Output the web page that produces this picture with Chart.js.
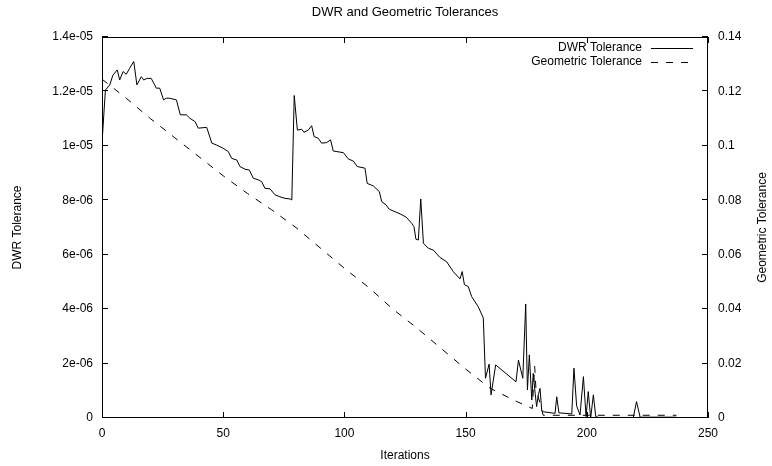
<!DOCTYPE html>
<html><head><meta charset="utf-8">
<script src="https://cdn.jsdelivr.net/npm/chart.js@4.4.0/dist/chart.umd.min.js"></script>
<style>html,body{margin:0;padding:0;background:#fff;}</style>
</head><body>
<canvas id="c" width="772" height="466"></canvas>
<script>
// ---- data ----
const dwrIter = [0,1.4,3.2,4.5,6.3,7.3,8.7,10,11.4,13.1,14.4,16.2,17.2,18.6,20.3,22.4,23.8,25.4,26.5,27.9,29.3,30.7,32.3,34.8,36.3,38.4,39.7,43.2,45.3,47.3,50,52.1,53.5,55.6,56.9,59,60.8,62.4,64.5,65.9,67.2,69.3,71.4,73.4,75.5,77.6,78.3,79.3,80.6,82.4,83.3,85.1,86.5,87.5,89.2,90.6,92.7,94.3,95.4,99.6,101.6,103.7,105.3,108.5,109.4,111.9,114.4,115.4,117.2,118.5,120.9,123,125.5,127.8,128.7,129.5,130.5,131.5,132.6,134.6,136.7,139.4,142.2,144.9,147.7,148.6,149.5,151.1,152.5,155.2,157.3,158.2,159.7,160.5,162.4,170.8,171.8,173.6,174.8,175.5,176.3,177.3,177.9,178.7,179.3,180,180.7,181.4,182,186.9,187.6,188.5,193.8,194.7,195.8,197.2,198.6,199.7,200.6,201.6,202.7,203.7,205,219.2,220.5,222,237];
// DWR tolerance in units of 1e-6
const dwrMicro = [10.1,12.05,12.24,12.6,12.79,12.42,12.73,12.63,12.85,13.1,12.24,12.54,12.42,12.48,12.48,12.12,12.12,11.69,11.75,11.75,11.72,11.69,11.14,11.14,11.01,10.89,10.65,10.68,10.1,10.03,9.91,9.79,9.54,9.48,9.24,9.14,9.11,8.81,8.75,8.68,8.44,8.42,8.2,8.13,8.07,8.05,8.01,11.85,10.58,10.61,10.5,10.58,10.74,10.34,10.28,10.1,10.12,10.22,9.81,9.75,9.52,9.44,9.24,9.18,8.62,8.53,8.32,7.95,7.83,7.67,7.58,7.5,7.38,7.15,7.03,6.57,6.54,8.05,6.42,6.24,6.17,5.9,5.74,5.38,5.11,5.38,4.9,4.83,4.46,4.09,3.68,1.46,1.98,0.85,1.95,1.33,2.13,1.46,4.19,1.03,2.32,0.66,1.64,0.9,0.42,0.85,1.09,0.29,0.23,0.17,0.78,0.19,0.15,1.83,0.45,0.11,1.52,0.05,0.97,0.0,0.85,0.05,0.02,0.02,0.6,0.03,0.03];
const geoIter = [0,10,20,30,40,50,60,70,80,90,100,110,120,130,140,150,160,170,177.5,178.5,179,182,237];
const geoVal  = [0.1245,0.1175,0.110,0.103,0.096,0.089,0.0825,0.0765,0.070,0.0625,0.055,0.048,0.040,0.033,0.0255,0.018,0.011,0.0065,0.0035,0.019,0.011,0.001,0.001];

const xTickVals = [0,50,100,150,200,250];
const xTickLabels = ['0','50','100','150','200','250'];
const yTickVals = [0,2e-6,4e-6,6e-6,8e-6,1e-5,1.2e-5,1.4e-5];
const yTickLabels = ['0','2e-06','4e-06','6e-06','8e-06','1e-05','1.2e-05','1.4e-05'];
const y2TickVals = [0,0.02,0.04,0.06,0.08,0.1,0.12,0.14];
const y2TickLabels = ['0','0.02','0.04','0.06','0.08','0.1','0.12','0.14'];

const titleText = 'DWR and Geometric Tolerances';
const xTitle = 'Iterations';
const yTitle = 'DWR Tolerance';
const y2Title = 'Geometric Tolerance';
const seriesNames = ['DWR Tolerance','Geometric Tolerance'];

// ---- chart ----
const FONT = '"Liberation Sans", Arial, Helvetica, sans-serif';
Chart.defaults.font.family = FONT;
Chart.defaults.font.size = 12;
Chart.defaults.color = '#000';

const dwrData = dwrIter.map((x, i) => ({x: x, y: dwrMicro[i] * 1e-6}));
const geoData = geoIter.map((x, i) => ({x: x, y: geoVal[i]}));

const decor = {
  id: 'decor',
  afterDraw(chart) {
    const {ctx, chartArea: a, scales} = chart;
    ctx.save();
    ctx.strokeStyle = '#000';
    ctx.lineWidth = 1;
    ctx.setLineDash([]);
    // border
    ctx.strokeRect(Math.round(a.left) + 0.5, Math.round(a.top) + 0.5, Math.round(a.right - a.left) - 1, Math.round(a.bottom - a.top) - 1);
    const L = 6;
    ctx.beginPath();
    xTickVals.forEach(v => {
      const px = Math.round(scales.x.getPixelForValue(v)) + 0.5;
      ctx.moveTo(px, a.bottom); ctx.lineTo(px, a.bottom - L);
      ctx.moveTo(px, a.top); ctx.lineTo(px, a.top + L);
    });
    yTickVals.forEach(v => {
      const py = Math.round(scales.y.getPixelForValue(v)) - 0.5;
      ctx.moveTo(a.left, py); ctx.lineTo(a.left + L, py);
    });
    y2TickVals.forEach(v => {
      const py = Math.round(scales.y2.getPixelForValue(v)) - 0.5;
      ctx.moveTo(a.right, py); ctx.lineTo(a.right - L, py);
    });
    ctx.stroke();
    // axis titles
    ctx.fillStyle = '#000';
    ctx.font = '12px ' + FONT;
    ctx.textAlign = 'center';
    ctx.textBaseline = 'middle';
    const cx = (a.left + a.right) / 2, cy = (a.top + a.bottom) / 2;
    ctx.fillText(xTitle, cx, a.bottom + 38);
    ctx.save(); ctx.translate(18, cy); ctx.rotate(-Math.PI / 2); ctx.fillText(yTitle, 0, 0); ctx.restore();
    ctx.save(); ctx.translate(763, cy); ctx.rotate(-Math.PI / 2); ctx.fillText(y2Title, 0, 0); ctx.restore();
    // legend
    ctx.textAlign = 'right';
    const lx = 642, sx0 = 651, sx1 = 693;
    const rows = [48, 62];
    ctx.fillText(seriesNames[0], lx, rows[0]);
    ctx.fillText(seriesNames[1], lx, rows[1]);
    ctx.beginPath(); ctx.moveTo(sx0, rows[0] + 0.5); ctx.lineTo(sx1, rows[0] + 0.5); ctx.stroke();
    ctx.setLineDash([7, 8]);
    ctx.beginPath(); ctx.moveTo(sx0, rows[1] + 0.5); ctx.lineTo(sx1, rows[1] + 0.5); ctx.stroke();
    ctx.restore();
  }
};

new Chart(document.getElementById('c'), {
  type: 'line',
  data: {
    datasets: [
      {label: seriesNames[0], data: dwrData, yAxisID: 'y', borderColor: '#000', borderWidth: 1, pointRadius: 0, tension: 0, fill: false},
      {label: seriesNames[1], data: geoData, yAxisID: 'y2', borderColor: '#000', borderWidth: 1, borderDash: [7, 8], pointRadius: 0, tension: 0, fill: false}
    ]
  },
  options: {
    responsive: false,
    animation: false,
    events: [],
    layout: {padding: 0},
    plugins: {
      legend: {display: false},
      tooltip: {enabled: false},
      title: {display: true, text: titleText, fullSize: false, color: '#000',
              font: {size: 13, weight: 'normal', family: FONT, lineHeight: 1.2},
              padding: {top: 5, bottom: 16.4}}
    },
    scales: {
      x: {
        type: 'linear', min: 0, max: 250,
        grid: {display: false, drawTicks: false}, border: {display: false},
        afterBuildTicks: s => { s.ticks = xTickVals.map(v => ({value: v})); },
        afterFit: s => { s.height = 48; s.paddingLeft = 0; s.paddingRight = 0; },
        ticks: {padding: 8, maxRotation: 0, autoSkip: false, callback: (v, i) => xTickLabels[i]}
      },
      y: {
        type: 'linear', position: 'left', min: 0, max: 1.4e-5,
        grid: {display: false, drawTicks: false}, border: {display: false},
        afterBuildTicks: s => { s.ticks = yTickVals.map(v => ({value: v})); },
        afterFit: s => { s.width = 102; s.paddingTop = 0; s.paddingBottom = 0; },
        ticks: {padding: 9, autoSkip: false, callback: (v, i) => yTickLabels[i]}
      },
      y2: {
        type: 'linear', position: 'right', min: 0, max: 0.14,
        grid: {display: false, drawTicks: false}, border: {display: false},
        afterBuildTicks: s => { s.ticks = y2TickVals.map(v => ({value: v})); },
        afterFit: s => { s.width = 64; s.paddingTop = 0; s.paddingBottom = 0; },
        ticks: {padding: 10, autoSkip: false, callback: (v, i) => y2TickLabels[i]}
      }
    }
  },
  plugins: [decor]
});
</script>
</body></html>
